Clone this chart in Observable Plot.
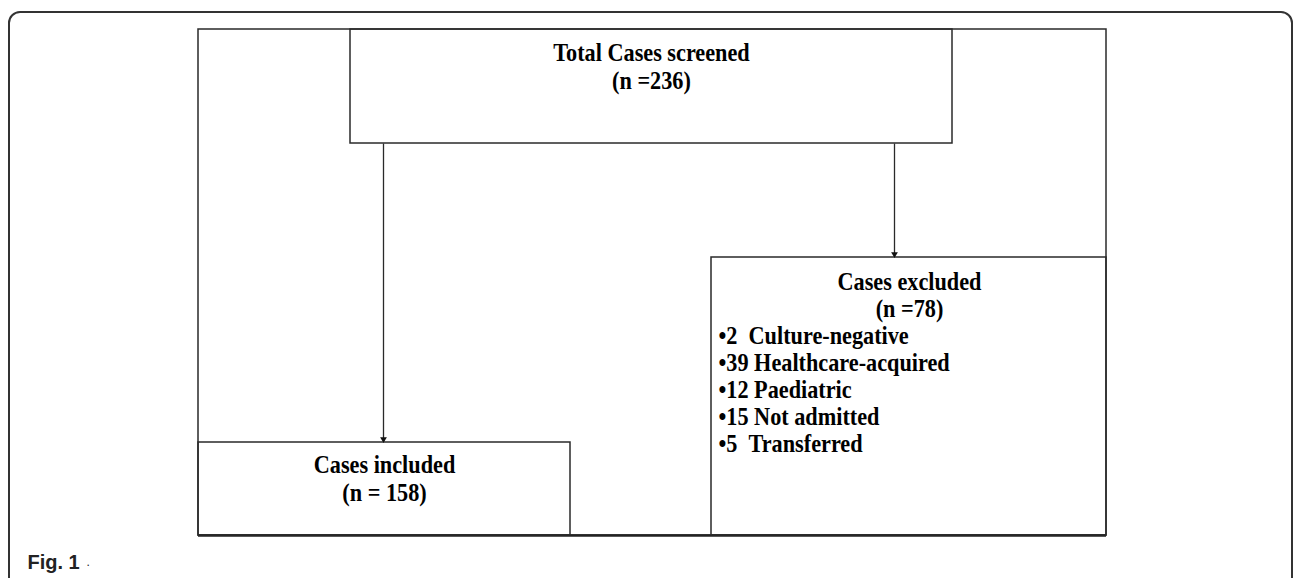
<!DOCTYPE html>
<html>
<head>
<meta charset="utf-8">
<script src="https://cdn.jsdelivr.net/npm/d3@7"></script>
<script src="https://cdn.jsdelivr.net/npm/@observablehq/plot@0.6"></script>
<style>
  html, body { margin: 0; padding: 0; background: #fff; overflow: hidden; }
  #chart svg { display: block; }
</style>
</head>
<body>
<div id="chart"></div>
<script>
// ---- content ----
const nodeLabels = ["Total Cases screened", "Cases included", "Cases excluded"];
const nodeCounts = ["(n =236)", "(n = 158)", "(n =78)"];
const exclusionCounts = [2, 39, 12, 15, 5];
const exclusionReasons = ["Culture-negative", "Healthcare-acquired", "Paediatric", "Not admitted", "Transferred"];
const captionLabel = "Fig. 1";
const captionTail = ".";

// ---- layout (page pixel space) ----
const W = 1293, H = 578;
const frame = {x1: 9, x2: 1292, y1: 12, y2: 600};
const outer = {x1: 198, x2: 1106, y1: 29, y2: 535};
const boxes = [
  {x1: 350, x2: 952, y1: 29, y2: 143, cx: 651, ty: [52, 80]},
  {x1: 198, x2: 570, y1: 442, y2: 535, cx: 384, ty: [464, 492]},
  {x1: 711, x2: 1106, y1: 257, y2: 535, cx: 909, ty: [281, 308]}
];
const arrows = [
  {x: 383, y1: 143, y2: 442},
  {x: 894, y1: 143, y2: 257}
];
const bulletX = 718, bulletY0 = 335, bulletStep = 27;

const titleRows = boxes.flatMap((b, i) => [
  {x: b.cx, y: b.ty[0], t: nodeLabels[i]},
  {x: b.cx, y: b.ty[1], t: nodeCounts[i]}
]);
const bulletRows = exclusionCounts.map((n, i) => ({
  x: bulletX,
  y: bulletY0 + i * bulletStep,
  t: "\u2022" + n + (n < 10 ? "\u00a0\u00a0" : "\u00a0") + exclusionReasons[i]
}));

const serif = "'Liberation Serif', 'Times New Roman', serif";
const ink = "#2a2a2a";

const chart = Plot.plot({
  width: W,
  height: H,
  margin: 0,
  x: {domain: [0, W], axis: null},
  y: {domain: [0, H], reverse: true, axis: null},
  style: {background: "#fff", overflow: "hidden"},
  marks: [
    Plot.rect([frame], {x1: "x1", x2: "x2", y1: "y1", y2: "y2", rx: 11, fill: "none", stroke: "#333", strokeWidth: 2}),
    Plot.rect([outer], {x1: "x1", x2: "x2", y1: "y1", y2: "y2", fill: "none", stroke: ink, strokeWidth: 1.5}),
    Plot.ruleY([outer], {y: "y2", x1: "x1", x2: "x2", stroke: "#222", strokeWidth: 2.5}),
    Plot.rect(boxes, {x1: "x1", x2: "x2", y1: "y1", y2: "y2", fill: "none", stroke: ink, strokeWidth: 1.5}),
    Plot.link(arrows, {x1: "x", x2: "x", y1: "y1", y2: d => d.y2 - 4, stroke: ink, strokeWidth: 1.3}),
    Plot.dot(arrows, {x: "x", y: d => d.y2 - 3.4, symbol: "triangle", rotate: 180, r: 2.5, fill: "#111", stroke: "none"}),
    Plot.text(titleRows, {x: "x", y: "y", text: "t", fontFamily: serif, fontWeight: "bold", fontSize: 25, fill: "#000"}),
    Plot.text(bulletRows, {x: "x", y: "y", text: "t", textAnchor: "start", fontFamily: serif, fontWeight: "bold", fontSize: 25, fill: "#000"}),
    Plot.text([captionLabel], {x: 27, y: 562, text: d => d, textAnchor: "start", fontFamily: "'Liberation Sans', Arial, sans-serif", fontWeight: "bold", fontSize: 20, fill: "#222"}),
    Plot.text([captionTail], {x: 86, y: 562, text: d => d, textAnchor: "start", fontFamily: "'Liberation Sans', Arial, sans-serif", fontSize: 12, fill: "#222"})
  ]
});

// condense the serif labels horizontally, like the reference's narrow Times face
chart.querySelectorAll("g[aria-label='text']").forEach(g => {
  const ff = g.getAttribute("font-family") || "";
  if (!ff.includes("Serif")) return;
  g.querySelectorAll("text").forEach(t => {
    let tr = t.getAttribute("transform");
    if (!tr) {
      const x = t.getAttribute("x") || 0, y = t.getAttribute("y") || 0;
      t.removeAttribute("x"); t.removeAttribute("y");
      tr = `translate(${x},${y})`;
    }
    t.setAttribute("transform", tr + " scale(0.89,1)");
  });
});

document.getElementById("chart").appendChild(chart);
</script>
</body>
</html>
